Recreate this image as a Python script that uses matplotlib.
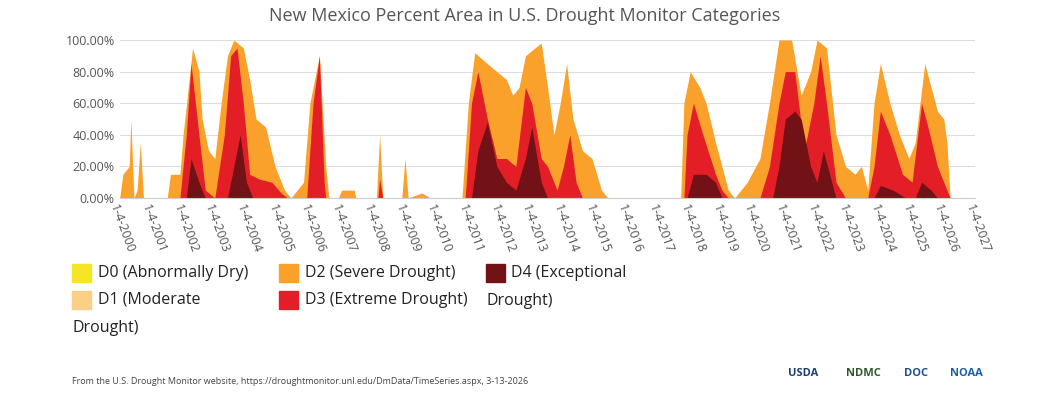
import matplotlib.pyplot as plt
from matplotlib.patches import Rectangle

plt.rcParams['font.family'] = ['Open Sans', 'DejaVu Sans']

# decimal year and percent area (cumulative categories)
d2_t = [2000.0, 2000.1, 2000.3, 2000.35, 2000.45, 2000.55, 2000.65, 2000.75, 2001.5, 2001.6, 2001.9, 2002.0,
        2002.3, 2002.5, 2002.6, 2002.8, 2003.0, 2003.2, 2003.4, 2003.6, 2003.9, 2004.1, 2004.3, 2004.6,
        2004.9, 2005.2, 2005.4, 2005.8, 2006.0, 2006.3, 2006.5, 2006.6, 2006.9, 2007.0, 2007.4, 2007.45,
        2008.1, 2008.2, 2008.3, 2008.9, 2009.0, 2009.1, 2009.5, 2009.55, 2009.8, 2010.8, 2011.0, 2011.2,
        2011.6, 2011.9, 2012.2, 2012.4, 2012.6, 2012.8, 2013.1, 2013.3, 2013.5, 2013.7, 2013.9, 2014.1,
        2014.3, 2014.6, 2014.9, 2015.2, 2015.4, 2017.7, 2017.8, 2018.0, 2018.3, 2018.5, 2018.8, 2019.0,
        2019.2, 2019.4, 2019.8, 2020.2, 2020.5, 2020.8, 2021.2, 2021.5, 2021.8, 2022.0, 2022.3, 2022.6,
        2022.9, 2023.2, 2023.4, 2023.6, 2023.8, 2024.0, 2024.3, 2024.6, 2024.9, 2025.1, 2025.4, 2025.6,
        2025.8, 2026.0, 2026.1, 2026.2]
d2_v = [0, 15, 20, 50, 0, 5, 35, 0, 0, 15, 15, 40,
        95, 80, 50, 30, 25, 60, 90, 100, 95, 75, 50, 45,
        20, 5, 0, 10, 60, 90, 20, 0, 0, 5, 5, 0,
        0, 40, 0, 0, 25, 0, 3, 3, 0, 0, 60, 92,
        85, 80, 75, 65, 70, 90, 95, 98, 70, 40, 60, 85,
        50, 30, 25, 5, 0, 0, 60, 80, 70, 60, 35, 20,
        5, 0, 10, 25, 60, 100, 100, 65, 80, 100, 95, 40,
        20, 15, 20, 5, 60, 85, 60, 40, 25, 35, 85, 70,
        55, 50, 35, 0]

d3_t = [2000.0, 2001.9, 2002.1, 2002.25, 2002.5, 2002.7, 2003.0, 2003.3, 2003.5, 2003.7, 2003.9, 2004.1,
        2004.4, 2004.8, 2005.1, 2005.3, 2005.9, 2006.1, 2006.3, 2006.45, 2006.5, 2008.15, 2008.2, 2008.3,
        2010.9, 2011.1, 2011.3, 2011.6, 2011.9, 2012.2, 2012.5, 2012.8, 2013.0, 2013.3, 2013.5, 2013.8,
        2014.0, 2014.2, 2014.4, 2014.6, 2017.8, 2017.9, 2018.1, 2018.4, 2018.8, 2019.0, 2019.2, 2020.2,
        2020.5, 2020.8, 2021.0, 2021.3, 2021.6, 2021.9, 2022.1, 2022.3, 2022.6, 2022.9, 2023.6, 2023.8,
        2024.0, 2024.3, 2024.7, 2025.0, 2025.3, 2025.5, 2025.8, 2026.0, 2026.2]
d3_v = [0, 0, 40, 85, 40, 5, 0, 40, 90, 95, 60, 15,
        12, 10, 3, 0, 0, 60, 90, 10, 0, 0, 12, 0,
        0, 60, 80, 50, 25, 25, 20, 70, 60, 25, 20, 5,
        20, 40, 10, 0, 0, 40, 60, 40, 15, 5, 0, 0,
        20, 60, 80, 80, 30, 60, 90, 60, 10, 0, 0, 20,
        55, 40, 15, 10, 60, 45, 20, 10, 0]

d4_t = [2000.0, 2002.1, 2002.25, 2002.5, 2002.7, 2003.4, 2003.6, 2003.8, 2004.0, 2004.2, 2011.1, 2011.3,
        2011.6, 2011.9, 2012.2, 2012.5, 2012.8, 2013.0, 2013.3, 2013.5, 2017.9, 2018.1, 2018.5, 2018.8,
        2019.0, 2020.6, 2020.8, 2021.0, 2021.3, 2021.5, 2021.8, 2022.0, 2022.2, 2022.4, 2022.6, 2023.8,
        2024.0, 2024.4, 2024.8, 2025.1, 2025.3, 2025.6, 2025.8]
d4_v = [0, 0, 25, 10, 0, 0, 20, 40, 10, 0, 0, 30,
        48, 20, 10, 5, 25, 45, 10, 0, 0, 15, 15, 10,
        0, 0, 20, 50, 55, 50, 20, 10, 30, 15, 0, 0,
        8, 5, 0, 0, 10, 5, 0]

years = list(range(2000, 2028))
tick_labels = [f"1-4-{y}" for y in years]

colors = {'D0': '#f5e625', 'D1': '#fccf86', 'D2': '#f9a12a', 'D3': '#e41e26', 'D4': '#731216'}

fig = plt.figure(figsize=(10.5, 4), dpi=100)
ax = fig.add_axes([0.114, 0.505, 0.815, 0.395])

ax.fill_between(d2_t, d2_v, color=colors['D2'], lw=0)
ax.fill_between(d3_t, d3_v, color=colors['D3'], lw=0)
ax.fill_between(d4_t, d4_v, color=colors['D4'], lw=0)

ax.set_xlim(2000, 2026.85)
ax.set_ylim(0, 100)
ax.set_xticks(years)
ax.set_xticklabels(tick_labels, rotation=-70, ha='left', rotation_mode='anchor', fontsize=9, color='#555555')
ax.set_yticks(range(0, 101, 20))
ax.set_yticklabels([f"{v:.2f}%" for v in range(0, 101, 20)], fontsize=9, color='#555555')
ax.grid(axis='y', color='#dddddd', lw=0.8)
ax.set_axisbelow(True)
for s in ['top', 'right', 'left']:
    ax.spines[s].set_visible(False)
ax.spines['bottom'].set_color('#cccccc')
ax.tick_params(length=0)

fig.text(0.5, 0.96, "New Mexico Percent Area in U.S. Drought Monitor Categories",
         ha='center', va='center', fontsize=13, color='#555555')

# legend: swatch, first line beside it, wrapped line back at the left edge
leg = [(0.069, 0.318, 'D0', "D0 (Abnormally Dry)", None),
       (0.069, 0.25, 'D1', "D1 (Moderate", "Drought)"),
       (0.266, 0.318, 'D2', "D2 (Severe Drought)", None),
       (0.266, 0.25, 'D3', "D3 (Extreme Drought)", None),
       (0.463, 0.318, 'D4', "D4 (Exceptional", "Drought)")]
for x, y, k, line1, line2 in leg:
    fig.patches.append(Rectangle((x, y - 0.022), 0.018, 0.045, transform=fig.transFigure,
                                 color=colors[k]))
    fig.text(x + 0.024, y, line1, fontsize=11.5, color='#222222', va='center')
    if line2:
        fig.text(x, y - 0.07, line2, fontsize=11.5, color='#222222', va='center')

fig.text(0.069, 0.045, "From the U.S. Drought Monitor website, https://droughtmonitor.unl.edu/DmData/TimeSeries.aspx, 3-13-2026",
         fontsize=6.5, color='#444444', va='center')

for x, lab, c in [(0.765, "USDA", '#1b3f73'), (0.822, "NDMC", '#2d5a2d'),
                  (0.872, "DOC", '#1f4e8c'), (0.92, "NOAA", '#1a5ea8')]:
    fig.text(x, 0.065, lab, fontsize=8, fontweight='bold', color=c, ha='center', va='center')

fig.savefig("out.png", dpi=100)
